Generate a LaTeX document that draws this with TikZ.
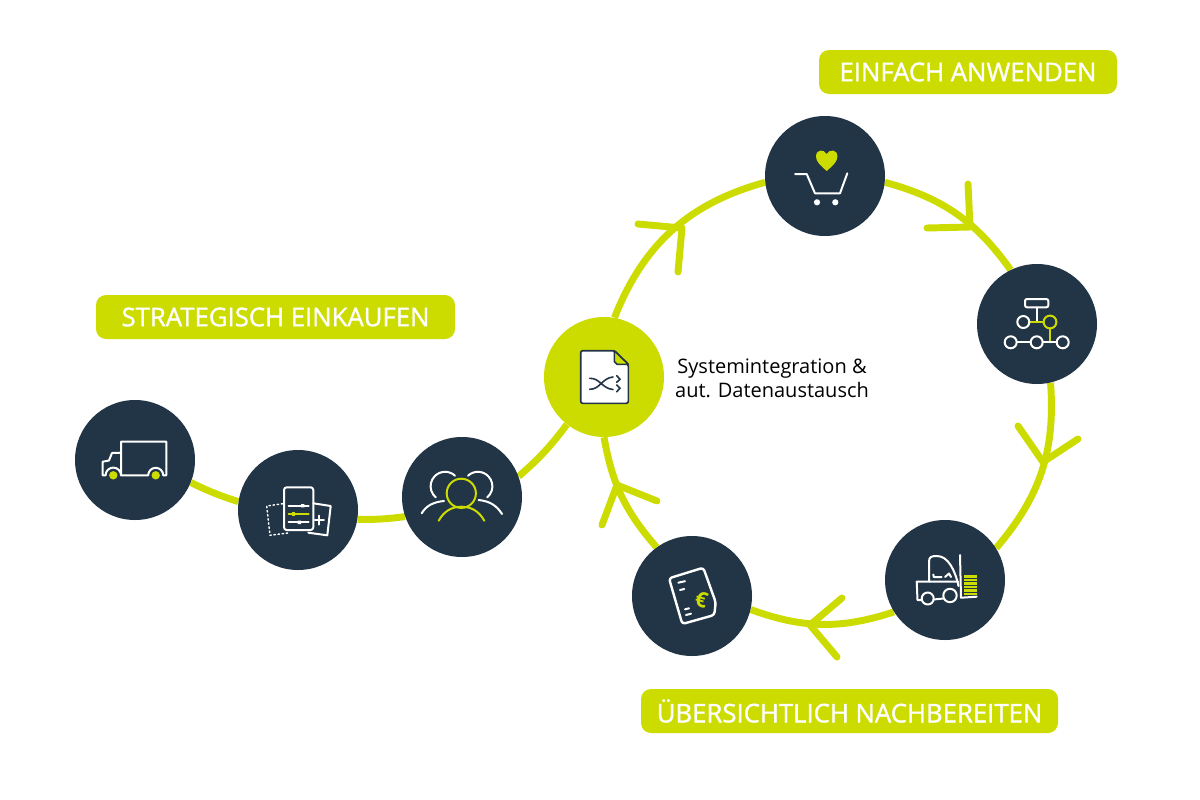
\documentclass[tikz,border=0pt]{standalone}
\usepackage{fontspec}
\setmainfont{Open Sans}
\newfontfamily\pillfont[FakeBold=1.2]{Open Sans}
\usetikzlibrary{backgrounds}
\definecolor{lime}{HTML}{CDDC00}
\definecolor{navy}{HTML}{223546}
\tikzset{
  stop/.style={circle,fill=navy,minimum size=90pt,inner sep=0pt},
  hub/.style={circle,fill=lime,minimum size=90pt,inner sep=0pt},
  pill/.style={fill=lime,rounded corners=7.5pt,minimum height=33pt,inner sep=0pt,text=white,font=\pillfont\fontsize{19.3}{22}\selectfont},
  caption/.style={align=center,text=black,font=\fontsize{15}{18}\selectfont},
  ring/.style={draw=lime,line width=5.2pt},
  barb/.style={draw=lime,line width=5.2pt,line cap=round,line join=round},
  ico/.style={draw=white,line width=1.5pt,line cap=round,line join=round},
  icog/.style={draw=lime,line width=1.5pt,line cap=round,line join=round},
}
\begin{document}
\begin{tikzpicture}[x=0.75pt,y=-0.75pt]
\useasboundingbox (0,0) rectangle (1200,800);
% nodes
\node[stop] (truck) at (135,460) {};
\node[stop] (sheets) at (298,510) {};
\node[stop] (people) at (462,497) {};
\node[hub] (doc) at (604,377) {};
\node[stop] (cart) at (825,176) {};
\node[stop] (net) at (1037,324) {};
\node[stop] (fork) at (945,580) {};
\node[stop] (receipt) at (692,596) {};
\node[pill,minimum width=269.25pt] (l1) at (275.5,317) {STRATEGISCH EINKAUFEN};
\node[pill,minimum width=223.5pt] (l2) at (968,72) {EINFACH ANWENDEN};
\node[pill,minimum width=312.75pt] (l3) at (849.5,711) {ÜBERSICHTLICH NACHBEREITEN};
\node[caption] (cap) at (772,378) {Systemintegration \&\\aut. Datenaustausch};
% connectors
\begin{scope}[on background layer]
\fill[white] (0,0) rectangle (1200,800);
\draw[ring] (truck.-22.7) to[bend right=4] (sheets.172);
\draw[ring] (sheets.-9.5) to[bend right=4] (people.199);
\draw[ring] (people.20) to[bend right=6] (doc.232);
\draw[ring] (doc.80) to[bend left=26.5] (cart.186.6);
\draw[ring] (cart.-6.5) to[bend left=19.6] (net.116.6);
\draw[ring] (net.-77.6) to[bend left=22.4] (fork.32.8);
\draw[ring] (fork.212.9) to[bend left=19] (receipt.-13.6);
\draw[ring] (receipt.126) to[bend left=15.5] (doc.-90);
\end{scope}
% arrowheads
\coordinate (a1) at (682,228); \coordinate (a1l) at (638,224); \coordinate (a1r) at (678,272);
\coordinate (a2) at (970,227); \coordinate (a2l) at (968,184); \coordinate (a2r) at (927,228);
\coordinate (a3) at (1043,462); \coordinate (a3l) at (1018,426); \coordinate (a3r) at (1078,439);
\coordinate (a4) at (810,625); \coordinate (a4l) at (842,598); \coordinate (a4r) at (837,657);
\coordinate (a5) at (617,485); \coordinate (a5l) at (657,501); \coordinate (a5r) at (602,525);
\foreach \n in {a1,a2,a3,a4,a5} {\draw[barb] (\n l) -- (\n) -- (\n r);}
% truck icon
\fill[lime] (113.3,475.3) circle (4.2) (155.7,475.3) circle (4.2);
\draw[ico] (121,475.3) -- (121,441.7) -- (166.3,441.7) -- (166.3,475.3) -- (163.2,475.3)
  arc (0:-180:7.5) -- (121,475.3);
\draw[ico] (121,475.3) arc (0:-180:7.7) -- (102.7,475.3) -- (102.7,461.7) -- (109,460.5) -- (112,453) -- (121,452.7);
% sheets icon
\draw[ico,line width=1.1pt,dotted] (282.7,503.7) -- (266.7,506) -- (270,535.3) -- (290,532.7);
\draw[ico] (313.3,503.3) -- (330.7,506) -- (327.3,535.3) -- (308.3,532.7);
\draw[ico,rounded corners=2pt] (284,487.3) rectangle (313.3,530);
\draw[ico] (314.8,520) -- (323.8,520) (319.3,515.5) -- (319.3,524.5);
\draw[ico] (288.7,505.7) -- (308.7,505.7) (288.7,522.3) -- (308.7,522.3);
\draw[icog] (288.7,514) -- (308.7,514);
\fill[white] (301,504) rectangle (304.4,507.4) (297.6,520.6) rectangle (301,524);
\fill[lime] (291.6,512.3) rectangle (295,515.7);
% people icon
\draw[ico] (455,475.7) arc (-47:-230:14.5);
\draw[ico] (444,501) .. controls (433,502) and (426,506) .. (421.7,513.3);
\draw[ico] (468,475.7) arc (-133:50:14.5);
\draw[ico] (478.5,500) .. controls (490,501) and (497,506) .. (502,514);
\draw[icog] (461.3,493.3) circle (14.6);
\draw[icog] (438.7,520.7) .. controls (444,511) and (452,506.7) .. (461.3,506.7) .. controls (471,506.7) and (479,511) .. (484.3,520.7);
% document icon
\draw[fill=white,draw=navy,line width=1.2pt,rounded corners=1.5pt] (580.7,350.7) -- (614.3,350.7) -- (628.3,364.3) -- (628.3,403.3) -- (580.7,403.3) -- cycle;
\draw[fill=lime,draw=navy,line width=1.2pt,line join=round] (614.3,350.7) -- (628.3,364.3) -- (617,364.3) -- (614.3,361.5) -- cycle;
\draw[navy,line width=1.2pt,line cap=round] (589.7,378.3) .. controls (600,378) and (602,388.5) .. (613,389.5)
  (589.7,389.3) .. controls (600,389.5) and (602,378) .. (613,377)
  (616.7,375.7) -- (620,379.3) -- (616.7,382.3)
  (616.7,385) -- (620,388.3) -- (616.7,391.7);
% cart icon
\draw[ico] (795,174) -- (806.7,174) -- (815,193.3) -- (840,193.3) -- (847.3,173.3);
\fill[white] (817,202.3) circle (3.1) (835.3,202.3) circle (3.1);
\fill[lime] (826.7,171) .. controls (820,165) and (816,161.5) .. (816,156.5) .. controls (816,149) and (824,149) .. (826.7,154)
  .. controls (829.4,149) and (837.4,149) .. (837.4,156.5) .. controls (837.4,161.5) and (833.4,165) .. (826.7,171) -- cycle;
% network icon
\draw[ico,rounded corners=1.5pt] (1025,299) rectangle (1048.3,307.3);
\draw[ico] (1036.7,307.3) -- (1036.7,322);
\draw[icog] (1029.5,322) -- (1043.5,322) (1050,328.5) -- (1050,342.3);
\draw[ico] (1023.3,322) circle (6);
\draw[icog] (1050,322) circle (6.4);
\draw[ico] (1016.7,342.3) -- (1030.7,342.3) (1042.7,342.3) -- (1056.7,342.3);
\draw[ico] (1010.7,342.3) circle (6) (1036.7,342.3) circle (6) (1062.7,342.3) circle (6);
% forklift icon
\foreach \yy in {576.5,580,583.5,587,590.5,594} {\draw[lime,line width=1.6pt] (964.3,\yy) -- (976.7,\yy);}
\draw[ico] (960,555) -- (961,597.7) -- (976.7,596.7);
\draw[ico] (929,581.5) -- (929,562) .. controls (929,557) and (931,556) .. (937,556) .. controls (948,556) and (955,570) .. (958.5,586);
\draw[ico] (921.5,600) -- (917.5,600) -- (916.7,581.7) -- (958,581.7);
\draw[ico] (933.5,599.5) -- (943.5,598.5);
\draw[ico] (927.7,598.5) circle (6) (950,595.5) circle (6.7);
\draw[ico] (933.3,574.5) -- (933.8,577) -- (941.7,577) (945,577) -- (949,573.5) -- (951,577);
% receipt icon
\draw[ico,line width=1.8pt,rounded corners=2.2pt] (669,578.3) -- (703.3,567.7) -- (715.7,602.3) -- (714.3,615) -- (682.3,624) -- cycle;
\draw[ico] (678.3,582.7) -- (685,581.2) (680,590) -- (684.3,589) (685,609.3) -- (689,608.3) (686,615) -- (691,613.7);
\node[text=lime,font=\bfseries\fontsize{16}{16}\selectfont,rotate=-15,inner sep=0pt] (euro) at (701.5,599.5) {€};
\end{tikzpicture}
\end{document}
